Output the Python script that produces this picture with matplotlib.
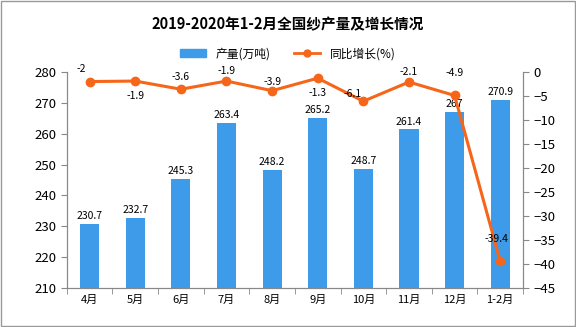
import matplotlib.pyplot as plt
import matplotlib.patches as mpatches
from matplotlib.lines import Line2D
import numpy as np

plt.rcParams['font.family'] = ['Noto Sans CJK SC', 'DejaVu Sans']

months = ["4月", "5月", "6月", "7月", "8月", "9月", "10月", "11月", "12月", "1-2月"]
output = [230.7, 232.7, 245.3, 263.4, 248.2, 265.2, 248.7, 261.4, 267, 270.9]
growth = [-2, -1.9, -3.6, -1.9, -3.9, -1.3, -6.1, -2.1, -4.9, -39.4]

# label offsets (points) for the growth labels
growth_offsets = [(-6, 9), (0, -11), (0, 9), (0, 7), (0, 6), (0, -11), (-8, 5), (0, 7), (0, 16), (-3, 16)]

bar_color = "#3d9be9"
line_color = "#f5661a"
spine_color = "#888888"

fig = plt.figure(figsize=(5.76, 3.27), dpi=100)
ax = fig.add_axes([0.116, 0.119, 0.792, 0.661])
ax2 = ax.twinx()

x = np.arange(len(months))
ax.bar(x, output, width=0.42, color=bar_color, zorder=2)
for xi, v in zip(x, output):
    ax.annotate(f"{v:g}", (xi, v), xytext=(0, 2), textcoords="offset points",
                ha="center", va="bottom", fontsize=7.5)

ax.set_ylim(210, 280)
ax.set_yticks(range(210, 281, 10))
ax.set_xlim(-0.5, len(months) - 0.5)
ax.set_xticks(x)
ax.set_xticklabels(months)
ax.set_xticks(np.arange(-0.5, len(months)), minor=True)
ax.tick_params(axis="x", which="major", length=0, labelsize=8, pad=5)
ax.tick_params(axis="x", which="minor", length=4, color=spine_color, direction="out")
ax.tick_params(axis="y", length=4, color=spine_color, labelsize=9.5)

ax2.plot(x, growth, color=line_color, lw=2.2, marker="o", ms=6, zorder=3)
for xi, v, off in zip(x, growth, growth_offsets):
    ax2.annotate(f"{v:g}", (xi, v), xytext=off, textcoords="offset points",
                 ha="center", va="center", fontsize=7.5)
ax2.set_ylim(-45, 0)
ax2.set_yticks(range(-45, 1, 5))
ax2.tick_params(axis="y", length=4, color=spine_color, labelsize=9.5)

for a in (ax, ax2):
    a.spines["top"].set_visible(False)
    for s in ("left", "right", "bottom"):
        a.spines[s].set_color(spine_color)

fig.text(0.5, 0.925, "2019-2020年1-2月全国纱产量及增长情况", ha="center", va="center",
         fontsize=10.5, fontweight="bold")

handles = [mpatches.Patch(color=bar_color, label="产量(万吨)"),
           Line2D([0], [0], color=line_color, lw=2, marker="o", ms=5, label="同比增长(%)")]
fig.legend(handles=handles, loc="center", bbox_to_anchor=(0.5, 0.835), ncol=2,
           frameon=False, fontsize=8.5, handlelength=2.2, columnspacing=2)

fig.patches.append(mpatches.Rectangle((0.002, 0.003), 0.996, 0.994, transform=fig.transFigure,
                                      fill=False, edgecolor="#999999", lw=1))

fig.savefig("out.png", dpi=100)
